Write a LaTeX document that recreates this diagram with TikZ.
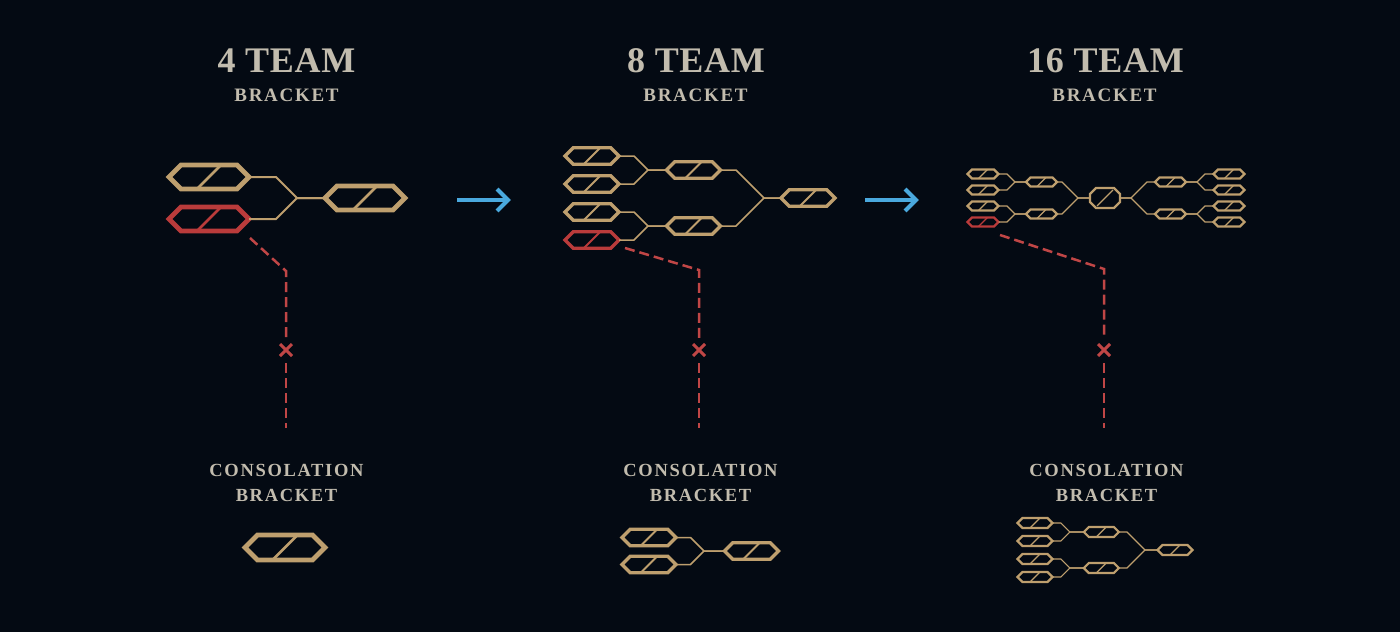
\documentclass[tikz,border=0pt]{standalone}
\usepackage{fontspec}
\setmainfont{Liberation Serif}
\newfontfamily\bigf[LetterSpace=2]{Liberation Serif}
\newfontfamily\smallf[LetterSpace=9]{Liberation Serif}
\usetikzlibrary{calc}
\definecolor{bg}{HTML}{040A13}
\definecolor{gold}{HTML}{BE9F6E}
\definecolor{lossred}{HTML}{BA3B3B}
\definecolor{dashred}{HTML}{C04646}
\definecolor{txt}{HTML}{C2BCAE}
\definecolor{arrowblue}{HTML}{4AA9DE}
\tikzset{
  hexbox/.style={shape=rectangle, inner sep=0pt, outer sep=0pt},
  out4/.style={line width=4.8pt, line join=miter},
  sl4/.style={line width=2.7pt},
  conn4/.style={draw=gold, line width=2pt},
  out8/.style={line width=3.4pt, line join=miter},
  sl8/.style={line width=1.8pt},
  conn8/.style={draw=gold, line width=1.5pt},
  out16/.style={line width=2.2pt, line join=miter},
  sl16/.style={line width=1.2pt},
  conn16/.style={draw=gold, line width=1.1pt},
  ttl/.style={font=\bigf\bfseries\fontsize{36}{36}\selectfont, text=txt, anchor=base, inner sep=0pt},
  sub/.style={font=\smallf\bfseries\fontsize{19}{19}\selectfont, text=txt, anchor=base, inner sep=0pt},
  cons/.style={font=\smallf\bfseries\fontsize{18.5}{18.5}\selectfont, text=txt, anchor=base, inner sep=0pt},
  dashln/.style={draw=dashred, line width=2.5pt, dash pattern=on 10pt off 5pt},
  xmark/.style={draw=dashred, line width=3pt},
  bluearrow/.style={draw=arrowblue, line width=4pt, line join=miter}
}
% name, x, y, w, h, colour, size key
\newcommand\hx[7]{%
  \node[hexbox, minimum width=#4, minimum height=#5] (#1) at (#2,#3) {};
  \draw[out#7, draw=#6] (#1.west) -- ++({#5/2},{-#5/2}) -- ++({#4-#5},0) -- (#1.east)
      -- ++({-#5/2},{#5/2}) -- ++({#5-#4},0) -- cycle;
  \draw[sl#7, draw=#6] ($(#1.center)+({-#5/2},{#5/2})$) -- ($(#1.center)+({#5/2},{-#5/2})$);
}
% child1, child2, parent, t, d, style  (children on the left)
\newcommand\lconn[6]{%
  \draw[#6] (#3.west) -- ++(-#4,0) -- ++(-#5,-#5) -- (#1.east);
  \draw[#6] (#3.west) -- ++(-#4,0) -- ++(-#5,#5) -- (#2.east);
}
% child1, child2, parent, t, d, style  (children on the right)
\newcommand\rconn[6]{%
  \draw[#6] (#3.east) -- ++(#4,0) -- ++(#5,-#5) -- (#1.west);
  \draw[#6] (#3.east) -- ++(#4,0) -- ++(#5,#5) -- (#2.west);
}
\begin{document}
\begin{tikzpicture}[x=1pt, y=-1pt]
\useasboundingbox (0,0) rectangle (1400,632);
\fill[bg] (0,0) rectangle (1400,632);

% ---------- titles ----------
\node[ttl] (t4) at (286.5,72) {4 TEAM};
\node[sub] (b4) at (286.5,101) {BRACKET};
\node[ttl] (t8) at (696,72) {8 TEAM};
\node[sub] (b8) at (695.5,101) {BRACKET};
\node[ttl] (t16) at (1105.5,72) {16 TEAM};
\node[sub] (b16) at (1104.5,101) {BRACKET};

\node[cons] (c4a) at (286.5,476) {CONSOLATION};
\node[cons] (c4b) at (286.5,501) {BRACKET};
\node[cons] (c8a) at (700.5,476) {CONSOLATION};
\node[cons] (c8b) at (700.5,501) {BRACKET};
\node[cons] (c16a) at (1106.5,476) {CONSOLATION};
\node[cons] (c16b) at (1106.5,501) {BRACKET};

% ---------- 4 team ----------
\hx{h4a}{209}{177}{80}{24}{gold}{4}
\hx{h4b}{209}{219}{80}{24}{lossred}{4}
\hx{h4c}{365}{198}{80}{24}{gold}{4}
\lconn{h4a}{h4b}{h4c}{28}{21}{conn4}
\hx{h4k}{285}{547.5}{80}{25}{gold}{4}

% ---------- 8 team ----------
\hx{h8a}{592}{156}{54}{16.5}{gold}{8}
\hx{h8b}{592}{184}{54}{16.5}{gold}{8}
\hx{h8c}{592}{212}{54}{16.5}{gold}{8}
\hx{h8d}{592}{240}{54}{16.5}{lossred}{8}
\hx{h8e}{693.5}{170}{54}{16.5}{gold}{8}
\hx{h8f}{693.5}{226}{54}{16.5}{gold}{8}
\hx{h8g}{808}{198}{54}{16.5}{gold}{8}
\lconn{h8a}{h8b}{h8e}{18.5}{14}{conn8}
\lconn{h8c}{h8d}{h8f}{18.5}{14}{conn8}
\lconn{h8e}{h8f}{h8g}{17}{28}{conn8}

\hx{h8k1}{649}{537.5}{54}{16.5}{gold}{8}
\hx{h8k2}{649}{564.5}{54}{16.5}{gold}{8}
\hx{h8k3}{751.5}{551}{54}{16.5}{gold}{8}
\lconn{h8k1}{h8k2}{h8k3}{20.5}{13.5}{conn8}

% ---------- 16 team ----------
\hx{h16a}{983}{174}{31}{9}{gold}{16}
\hx{h16b}{983}{190}{31}{9}{gold}{16}
\hx{h16c}{983}{206}{31}{9}{gold}{16}
\hx{h16d}{983}{222}{31}{9}{lossred}{16}
\hx{h16e}{1041.5}{182}{31}{9}{gold}{16}
\hx{h16f}{1041.5}{214}{31}{9}{gold}{16}
\node[hexbox, minimum width=30, minimum height=20] (c16) at (1105,198) {};
\draw[out16, draw=gold] ($(c16.north west)+(6,0)$) -- ($(c16.north east)+(-6,0)$)
   -- ($(c16.north east)+(0,6)$) -- ($(c16.south east)+(0,-6)$)
   -- ($(c16.south east)+(-6,0)$) -- ($(c16.south west)+(6,0)$)
   -- ($(c16.south west)+(0,-6)$) -- ($(c16.north west)+(0,6)$) -- cycle;
\draw[sl16, draw=gold] ($(c16.center)+(-8,8)$) -- ($(c16.center)+(8,-8)$);
\hx{h16g}{1170.5}{182}{31}{9}{gold}{16}
\hx{h16h}{1170.5}{214}{31}{9}{gold}{16}
\hx{h16i}{1229}{174}{31}{9}{gold}{16}
\hx{h16j}{1229}{190}{31}{9}{gold}{16}
\hx{h16k}{1229}{206}{31}{9}{gold}{16}
\hx{h16l}{1229}{222}{31}{9}{gold}{16}
\lconn{h16a}{h16b}{h16e}{11}{8}{conn16}
\lconn{h16c}{h16d}{h16f}{11}{8}{conn16}
\lconn{h16e}{h16f}{c16}{12}{16}{conn16}
\rconn{h16g}{h16h}{c16}{11}{16}{conn16}
\rconn{h16i}{h16j}{h16g}{11}{8}{conn16}
\rconn{h16k}{h16l}{h16h}{11}{8}{conn16}

\hx{k16a}{1035}{523}{35}{10}{gold}{16}
\hx{k16b}{1035}{541}{35}{10}{gold}{16}
\hx{k16c}{1035}{559}{35}{10}{gold}{16}
\hx{k16d}{1035}{577}{35}{10}{gold}{16}
\hx{k16e}{1101.3}{532}{35}{10}{gold}{16}
\hx{k16f}{1101.3}{568}{35}{10}{gold}{16}
\hx{k16g}{1175}{550}{35}{10}{gold}{16}
\lconn{k16a}{k16b}{k16e}{14}{9}{conn16}
\lconn{k16c}{k16d}{k16f}{14}{9}{conn16}
\lconn{k16e}{k16f}{k16g}{12.5}{18}{conn16}

% ---------- arrows ----------
\coordinate (a1s) at (457,200);
\coordinate (a1e) at (508,200);
\coordinate (a2s) at (865,200);
\coordinate (a2e) at (916,200);
\draw[bluearrow] (a1s) -- (a1e);
\draw[bluearrow] ($(a1e)+(-11,-11)$) -- (a1e) -- ($(a1e)+(-11,11)$);
\draw[bluearrow] (a2s) -- (a2e);
\draw[bluearrow] ($(a2e)+(-11,-11)$) -- (a2e) -- ($(a2e)+(-11,11)$);

% ---------- dashed elimination lines ----------
\coordinate (d4s) at (250,238);
\coordinate (d4c) at (286,271);
\coordinate (d4m1) at (286,339);
\coordinate (d4x) at (286,350);
\coordinate (d4m2) at (286,363);
\coordinate (d4e) at (286,428);
\draw[dashln] (d4s) -- (d4c) -- (d4m1);
\draw[dashln] (d4m2) -- (d4e);
\draw[xmark] ($(d4x)+(-6,-6)$) -- ($(d4x)+(6,6)$);
\draw[xmark] ($(d4x)+(-6,6)$) -- ($(d4x)+(6,-6)$);

\coordinate (d8s) at (625,248);
\coordinate (d8c) at (699,270);
\coordinate (d8m1) at (699,339);
\coordinate (d8x) at (699,350);
\coordinate (d8m2) at (699,363);
\coordinate (d8e) at (699,428);
\draw[dashln] (d8s) -- (d8c) -- (d8m1);
\draw[dashln] (d8m2) -- (d8e);
\draw[xmark] ($(d8x)+(-6,-6)$) -- ($(d8x)+(6,6)$);
\draw[xmark] ($(d8x)+(-6,6)$) -- ($(d8x)+(6,-6)$);

\coordinate (d16s) at (1000,235);
\coordinate (d16c) at (1104,269);
\coordinate (d16m1) at (1104,339);
\coordinate (d16x) at (1104,350);
\coordinate (d16m2) at (1104,363);
\coordinate (d16e) at (1104,428);
\draw[dashln] (d16s) -- (d16c) -- (d16m1);
\draw[dashln] (d16m2) -- (d16e);
\draw[xmark] ($(d16x)+(-6,-6)$) -- ($(d16x)+(6,6)$);
\draw[xmark] ($(d16x)+(-6,6)$) -- ($(d16x)+(6,-6)$);
\end{tikzpicture}
\end{document}
